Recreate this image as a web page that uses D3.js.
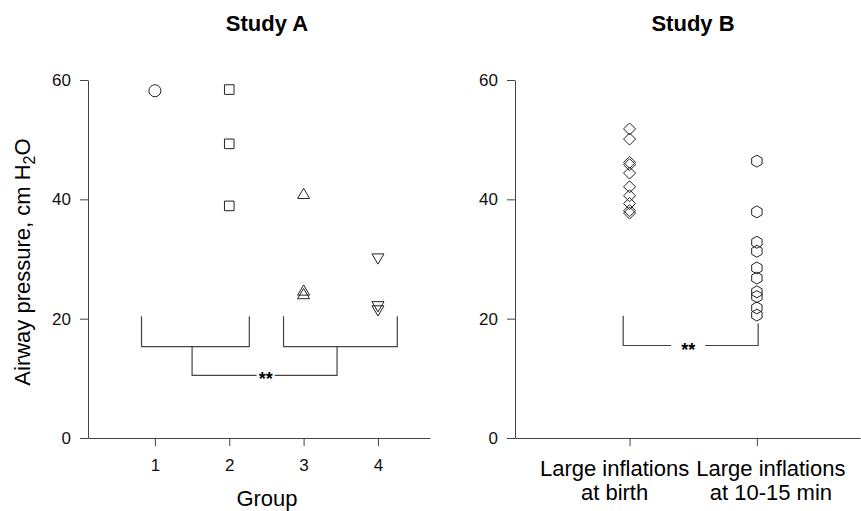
<!DOCTYPE html>
<html>
<head>
<meta charset="utf-8">
<script src="https://cdn.jsdelivr.net/npm/d3@7"></script>
<style>
  body { margin: 0; background: #fff; }
  svg { font-family: "Liberation Sans", Arial, sans-serif; }
</style>
</head>
<body>
<svg width="861" height="511"></svg>
<script>
// ---- data (cm H2O) ----
var yTicks = [0, 20, 40, 60];
var groupTicks = [1, 2, 3, 4];
var groupShapes = ["circle", "square", "triUp", "triDown"];
var group1 = [58.2];
var group2 = [58.4, 49.3, 38.9];
var group3 = [41.0, 24.8, 24.2];
var group4 = [30.0, 22.0, 21.3];

var studyBLabels = [["Large inflations", "at birth"], ["Large inflations", "at 10-15 min"]];
var birth = [51.8, 50.1, 46.2, 45.8, 44.4, 42.1, 40.6, 39.3, 38.1, 37.7];
var later = [46.4, 37.9, 32.8, 31.3, 28.5, 26.8, 24.5, 23.7, 21.8, 20.6];

// brackets: [x1, x2, yTopLeft, yTopRight, yBottom]
var bracketsA = [[0.82, 2.27, 20.4, 20.4, 15.3], [2.73, 4.26, 20.4, 20.4, 15.3]];
var linkA = [1.5, 3.45, 15.3, 15.3, 10.5];
var bracketB = [0.95, 2.01, 20.5, 19.2, 15.5];

var svg = d3.select("svg");
var ink = "#222", lineCol = "#444";

// custom symbol types, size = half width
var shapes = {
  circle: { draw: function (c, r) { c.moveTo(r, 0); c.arc(0, 0, r, 0, 2 * Math.PI); } },
  square: { draw: function (c, r) { c.rect(-r, -r, 2 * r, 2 * r); } },
  triUp: { draw: function (c, r) { c.moveTo(0, -r * 0.85); c.lineTo(r, r * 0.85); c.lineTo(-r, r * 0.85); c.closePath(); } },
  triDown: { draw: function (c, r) { c.moveTo(0, r * 0.85); c.lineTo(r, -r * 0.85); c.lineTo(-r, -r * 0.85); c.closePath(); } },
  diamond: { draw: function (c, r) { c.moveTo(0, -r); c.lineTo(r, 0); c.lineTo(0, r); c.lineTo(-r, 0); c.closePath(); } },
  hexagon: { draw: function (c, r) {
    for (var k = 0; k < 6; k++) {
      var a = -Math.PI / 2 + k * Math.PI / 3;
      if (k == 0) c.moveTo(r * Math.cos(a), r * Math.sin(a)); else c.lineTo(r * Math.cos(a), r * Math.sin(a));
    }
    c.closePath();
  } }
};
var shapeSize = { circle: 6, square: 4.8, triUp: 6, triDown: 6, diamond: 6, hexagon: 6 };

function symbolPath(name) {
  return d3.symbol().type(shapes[name]).size(shapeSize[name])();
}

// y axis with outward ticks
function drawYAxis(g, y, x0) {
  var ax = g.append("g").attr("transform", "translate(" + x0 + ",0)")
    .call(d3.axisLeft(y).tickValues(yTicks).tickSize(8).tickPadding(9).tickSizeOuter(0));
  ax.select(".domain").attr("stroke", lineCol);
  ax.selectAll(".tick line").attr("stroke", lineCol);
  ax.selectAll(".tick text").attr("font-size", 17).attr("fill", "#111")
    .attr("font-family", "Liberation Sans, Arial, sans-serif");
}

function drawBracket(g, x, y, b, col) {
  var p = d3.path();
  p.moveTo(x(b[0]), y(b[2]));
  p.lineTo(x(b[0]), y(b[4]));
  p.lineTo(x(b[1]), y(b[4]));
  p.lineTo(x(b[1]), y(b[3]));
  g.append("path").attr("d", p.toString()).attr("fill", "none")
    .attr("stroke", col).attr("stroke-width", 1.2);
}

function stars(g, cx, cy, gap) {
  g.append("rect").attr("x", cx - gap).attr("y", cy - 6).attr("width", gap * 2).attr("height", 12).attr("fill", "#fff");
  g.append("text").attr("x", cx).attr("y", cy + 10).attr("text-anchor", "middle")
    .attr("font-size", 18).attr("font-weight", "bold").attr("fill", "#000").text("**");
}

var y = d3.scaleLinear().domain([0, 60]).range([438, 80]);

// ---------- Study A ----------
var xA = d3.scaleLinear().domain([0.1, 4.7]).range([88, 430]);
var gA = svg.append("g");

var axA = gA.append("g").attr("transform", "translate(0,438)")
  .call(d3.axisBottom(xA).tickValues(groupTicks).tickFormat(d3.format("d")).tickSize(8).tickPadding(13).tickSizeOuter(0));
axA.select(".domain").attr("stroke", lineCol);
axA.selectAll(".tick line").attr("stroke", lineCol);
axA.selectAll(".tick text").attr("font-size", 17).attr("fill", "#111")
  .attr("font-family", "Liberation Sans, Arial, sans-serif");
drawYAxis(gA, y, 88);

var groups = [group1, group2, group3, group4];
groups.forEach(function (vals, i) {
  gA.append("g").selectAll("path").data(vals).enter().append("path")
    .attr("d", symbolPath(groupShapes[i]))
    .attr("transform", function (d) { return "translate(" + xA(groupTicks[i]) + "," + y(d) + ")"; })
    .attr("fill", "none").attr("stroke", ink).attr("stroke-width", 1);
});

bracketsA.forEach(function (b) { drawBracket(gA, xA, y, b, lineCol); });
drawBracket(gA, xA, y, linkA, lineCol);
stars(gA, xA(2.49), y(linkA[4]), 9);

gA.append("text").attr("x", 267).attr("y", 31).attr("text-anchor", "middle")
  .attr("font-size", 22).attr("font-weight", "bold").text("Study A");
gA.append("text").attr("x", 267).attr("y", 506).attr("text-anchor", "middle")
  .attr("font-size", 22).text("Group");

var yl = gA.append("text").attr("transform", "translate(30,262) rotate(-90)")
  .attr("text-anchor", "middle").attr("font-size", 22);
yl.append("tspan").text("Airway pressure, cm H");
yl.append("tspan").attr("font-size", 16).attr("dy", 5).text("2");
yl.append("tspan").attr("dy", -5).text("O");

// ---------- Study B ----------
var xB = d3.scaleLinear().domain([0.1, 2.81]).range([515, 860]);
var gB = svg.append("g");

var axB = gB.append("g").attr("transform", "translate(0,438)")
  .call(d3.axisBottom(xB).tickValues([1, 2]).tickFormat("").tickSize(8).tickSizeOuter(0));
axB.select(".domain").attr("stroke", lineCol);
axB.selectAll(".tick line").attr("stroke", lineCol);
drawYAxis(gB, y, 515);

var labelShift = [-15, 14];
studyBLabels.forEach(function (lines, i) {
  var t = gB.append("text").attr("text-anchor", "middle").attr("font-size", 22);
  lines.forEach(function (s, j) {
    t.append("tspan").attr("x", xB(i + 1) + labelShift[i]).attr("y", 476 + j * 24).text(s);
  });
});

gB.append("g").selectAll("path").data(birth).enter().append("path")
  .attr("d", symbolPath("diamond"))
  .attr("transform", function (d) { return "translate(" + xB(1) + "," + y(d) + ")"; })
  .attr("fill", "none").attr("stroke", ink).attr("stroke-width", 1);
gB.append("g").selectAll("path").data(later).enter().append("path")
  .attr("d", symbolPath("hexagon"))
  .attr("transform", function (d) { return "translate(" + xB(2) + "," + y(d) + ")"; })
  .attr("fill", "none").attr("stroke", ink).attr("stroke-width", 1);

drawBracket(gB, xB, y, bracketB, lineCol);
stars(gB, xB(1.46), y(bracketB[4]), 17);

gB.append("text").attr("x", 693).attr("y", 31).attr("text-anchor", "middle")
  .attr("font-size", 22).attr("font-weight", "bold").text("Study B");
</script>
</body>
</html>
